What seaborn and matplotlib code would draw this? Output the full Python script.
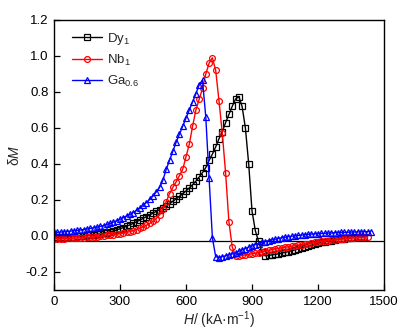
import numpy as np
import pandas as pd
import matplotlib
matplotlib.use("Agg")
import matplotlib.pyplot as plt
import seaborn as sns

# ---- data ----
H = [0, 15, 30, 45, 60, 75, 90, 105, 120, 135, 150, 165, 180, 195, 210, 225, 240, 255, 270, 285,
     300, 315, 330, 345, 360, 375, 390, 405, 420, 435, 450, 465, 480, 495, 510, 525, 540, 555, 570, 585,
     600, 615, 630, 645, 660, 675, 690, 705, 720, 735, 750, 765, 780, 795, 810, 825, 840, 855, 870, 885,
     900, 915, 930, 945, 960, 975, 990, 1005, 1020, 1035, 1050, 1065, 1080, 1095, 1110, 1125, 1140, 1155, 1170, 1185,
     1200, 1215, 1230, 1245, 1260, 1275, 1290, 1305, 1320, 1335, 1350, 1365, 1380, 1395, 1410, 1425, 1440]

dy1 = [-0.008, -0.008, -0.007, -0.006, -0.005, -0.004, -0.003, -0.002, 0.0, 0.002, 0.004, 0.006, 0.008, 0.010, 0.012, 0.015, 0.019, 0.023, 0.028, 0.034,
       0.040, 0.047, 0.054, 0.062, 0.070, 0.079, 0.088, 0.098, 0.108, 0.117, 0.127, 0.137, 0.147, 0.157, 0.168, 0.180, 0.193, 0.206, 0.220, 0.235,
       0.250, 0.267, 0.285, 0.305, 0.328, 0.352, 0.380, 0.420, 0.455, 0.495, 0.540, 0.580, 0.630, 0.675, 0.720, 0.760, 0.775, 0.720, 0.600, 0.400,
       0.140, 0.030, -0.030, -0.090, -0.110, -0.108, -0.105, -0.102, -0.099, -0.095, -0.091, -0.087, -0.082, -0.077, -0.072, -0.066, -0.061, -0.056, -0.050, -0.045,
       -0.040, -0.036, -0.032, -0.028, -0.025, -0.022, -0.019, -0.016, -0.014, -0.012, -0.010, -0.008, -0.007, -0.006, -0.005, np.nan, np.nan]

nb1 = [-0.015, -0.015, -0.014, -0.014, -0.013, -0.013, -0.012, -0.011, -0.010, -0.009, -0.008, -0.007, -0.005, -0.003, -0.001, 0.001, 0.003, 0.005, 0.007, 0.010,
       0.013, 0.016, 0.020, 0.025, 0.030, 0.036, 0.043, 0.050, 0.060, 0.070, 0.082, 0.097, 0.117, 0.150, 0.190, 0.235, 0.270, 0.300, 0.335, 0.370,
       0.440, 0.510, 0.610, 0.700, 0.760, 0.820, 0.900, 0.960, 0.990, 0.920, 0.750, 0.570, 0.350, 0.080, -0.060, -0.110, -0.110, -0.108, -0.105, -0.102,
       -0.099, -0.096, -0.092, -0.088, -0.084, -0.080, -0.076, -0.072, -0.069, -0.066, -0.063, -0.060, -0.057, -0.054, -0.051, -0.048, -0.045, -0.042, -0.039, -0.036,
       -0.033, -0.030, -0.027, -0.025, -0.023, -0.021, -0.019, -0.017, -0.015, -0.013, -0.011, -0.009, -0.008, -0.007, -0.006, -0.005, np.nan]

ga06 = [0.020, 0.020, 0.022, 0.023, 0.025, 0.027, 0.029, 0.031, 0.033, 0.036, 0.039, 0.042, 0.045, 0.049, 0.053, 0.058, 0.064, 0.070, 0.077, 0.085,
        0.093, 0.102, 0.111, 0.120, 0.130, 0.142, 0.155, 0.170, 0.186, 0.203, 0.222, 0.245, 0.270, 0.310, 0.370, 0.420, 0.470, 0.520, 0.565, 0.610,
        0.655, 0.700, 0.745, 0.790, 0.840, 0.865, 0.660, 0.320, -0.010, -0.115, -0.120, -0.115, -0.110, -0.105, -0.100, -0.093, -0.085, -0.077, -0.070, -0.062,
        -0.055, -0.048, -0.042, -0.036, -0.031, -0.026, -0.022, -0.018, -0.014, -0.010, -0.007, -0.004, -0.001, 0.001, 0.003, 0.005, 0.007, 0.009, 0.011, 0.012,
        0.013, 0.014, 0.015, 0.016, 0.017, 0.018, 0.019, 0.020, 0.020, 0.021, 0.022, 0.022, 0.023, 0.023, 0.024, 0.024, 0.025]

labels = ["Dy$_1$", "Nb$_1$", "Ga$_{0.6}$"]
colors = ["black", "red", "blue"]
markers = ["s", "o", "^"]
xticks = [0, 300, 600, 900, 1200, 1500]
yticks = [-0.2, 0.0, 0.2, 0.4, 0.6, 0.8, 1.0, 1.2]
baseline = -0.025

# ---- style ----
sns.set_style("ticks")
plt.rcParams["font.family"] = ["Liberation Sans", "DejaVu Sans"]
plt.rcParams["mathtext.fontset"] = "custom"
plt.rcParams["mathtext.rm"] = "Liberation Sans"
plt.rcParams["mathtext.it"] = "Liberation Sans:italic"
plt.rcParams["mathtext.bf"] = "Liberation Sans:bold"

fig = plt.figure(figsize=(4.07, 3.31), dpi=100)
ax = fig.add_axes([54 / 407, 41 / 331, 330 / 407, 270 / 331])

for ys, lab, c, m in zip([dy1, nb1, ga06], labels, colors, markers):
    df = pd.DataFrame({"H": H, "dM": ys}).dropna()
    sns.lineplot(data=df, x="H", y="dM", ax=ax, color=c, lw=1.0, marker=m,
                 markersize=4.2, markerfacecolor="none", markeredgecolor=c,
                 markeredgewidth=0.9, label=lab, sort=False, estimator=None)

ax.axhline(baseline, color="black", lw=0.9, zorder=1)

ax.set_xlim(0, 1500)
ax.set_ylim(-0.3, 1.2)
ax.set_xticks(xticks)
ax.set_yticks(yticks)
ax.set_yticklabels([f"{v:.1f}" for v in yticks])
ax.tick_params(direction="in", length=4, width=0.9, labelsize=9.5, colors="black",
               top=False, right=False, pad=4)
for s in ax.spines.values():
    s.set_visible(True)
    s.set_linewidth(1.0)
    s.set_color("black")

ax.set_xlabel(r"$\mathit{H}$/ (kA·m$^{-1}$)", fontsize=10, labelpad=1)
ax.set_ylabel(r"δ$\mathit{M}$", fontsize=10)
ax.yaxis.set_label_coords(-0.097, 0.5)

leg = ax.legend(loc="upper left", bbox_to_anchor=(0.03, 0.99), frameon=False,
                fontsize=9.5, handlelength=2.3, handletextpad=0.4, labelspacing=0.45,
                borderaxespad=0.2)

fig.savefig("out.png", dpi=100)
